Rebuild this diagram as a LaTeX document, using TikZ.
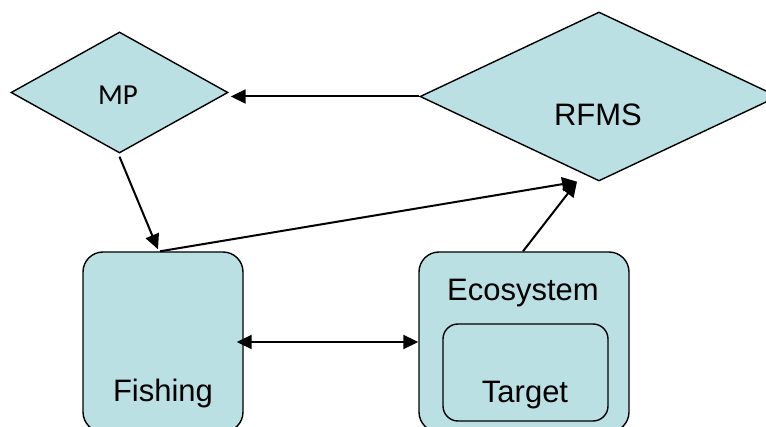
\documentclass[tikz,border=0pt]{standalone}
\usepackage{fontspec}
\setmainfont{Liberation Sans}
\newfontfamily\mpfont{Carlito}
\usepackage{tikz}
\usetikzlibrary{arrows.meta,shapes.geometric,calc}
\definecolor{fmedge}{RGB}{0,0,0}
\definecolor{fmfill}{RGB}{186,224,228}
\tikzset{
  fmshape/.style={draw=fmedge, fill=fmfill, line width=1.4pt, inner sep=0pt},
  dia/.style={fmshape, diamond},
  box/.style={fmshape, rectangle, rounded corners=20pt},
  inbox/.style={fmshape, rectangle, rounded corners=15pt},
  lbl/.style={font=\fontsize{31}{37}\selectfont, inner sep=0pt},
  arr/.style={-{Triangle[length=15pt,width=14pt]}, draw=fmedge, line width=2pt},
  darr/.style={{Triangle[length=15pt,width=14pt]}-{Triangle[length=15pt,width=14pt]}, draw=fmedge, line width=2pt}
}
\begin{document}
\begin{tikzpicture}[x=1pt,y=-1pt]
  \useasboundingbox (0,0) rectangle (766,427);
  \clip (0,0) rectangle (766,427);
  % decision nodes
  \node[dia, minimum width=217pt, minimum height=121pt] (mp) at (119.5,92.5) {};
  \node[font=\mpfont\fontsize{29}{35}\selectfont, inner sep=0pt] (mplbl) at (118,95) {MP};
  \node[dia, minimum width=358pt, minimum height=169pt] (rfms) at (599,96.5) {};
  \node[lbl] (rfmslbl) at (598,115) {RFMS};
  % fishing and ecosystem
  \node[box, minimum width=160pt, minimum height=180pt] (fish) at (163,342) {};
  \node[lbl] (fishlbl) at (163,393) {Fishing};
  \node[box, minimum width=210pt, minimum height=180pt] (eco) at (524,342) {};
  \node[lbl] (ecolbl) at (523,293) {Ecosystem};
  \node[inbox, minimum width=165pt, minimum height=97pt] (tgt) at (525.5,372.5) {};
  \node[lbl] (tgtlbl) at (525,395) {Target};
  % connectors
  \draw[arr] (rfms.west) -- ([xshift=2pt,yshift=-4pt]mp.east);
  \draw[arr] ([yshift=-3pt]mp.south) -- ([xshift=-5pt,yshift=2pt]fish.north);
  \draw[arr] ([xshift=-3pt]fish.north) -- ([xshift=-22pt]rfms.south);
  \draw[arr] ([xshift=-1pt]eco.north) -- ([xshift=-22pt]rfms.south);
  \draw[darr] ([xshift=-7pt]fish.east) -- (eco.west);
\end{tikzpicture}
\end{document}
